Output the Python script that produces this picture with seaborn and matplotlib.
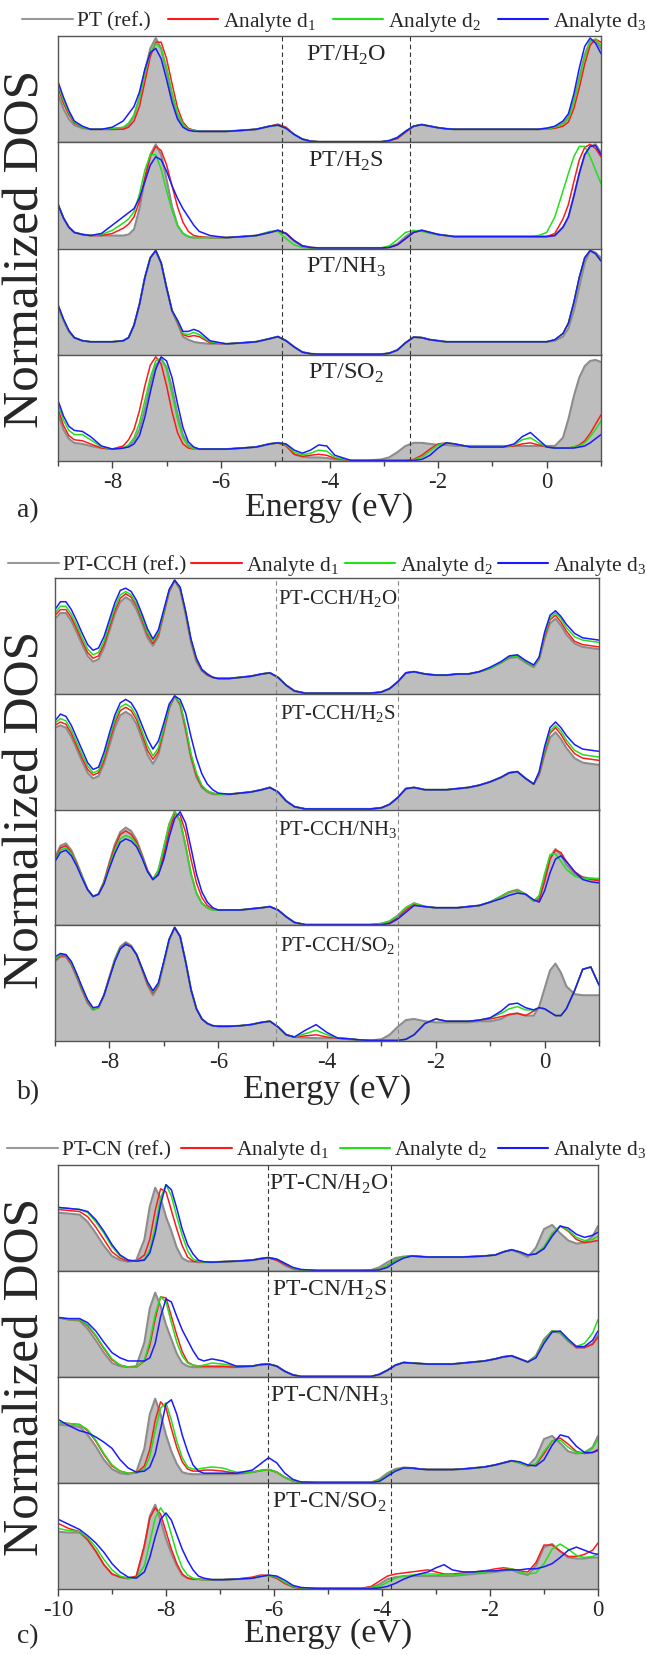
import numpy as np
import matplotlib
matplotlib.use('Agg')
import matplotlib.pyplot as plt
from matplotlib.lines import Line2D
from matplotlib.ticker import MultipleLocator
import seaborn as sns

# energy sampling points (eV), denser where the DOS changes quickly
energy_a = [-9.0, -8.9, -8.8, -8.7, -8.55, -8.4, -8.2, -8.0,
            -7.8, -7.7, -7.6, -7.5, -7.4, -7.3, -7.2, -7.1, -7.0, -6.9, -6.8, -6.7, -6.6, -6.5, -6.4,
            -6.2, -5.9, -5.6, -5.35,
            -5.1, -4.95, -4.8, -4.65, -4.5, -4.35, -4.2, -4.05, -3.9,
            -3.6, -3.3, -3.05,
            -2.9, -2.75, -2.6, -2.45, -2.3, -2.15, -2.0, -1.85, -1.7,
            -1.4, -1.1, -0.8, -0.6, -0.45, -0.3, -0.15,
            0.0, 0.15, 0.3, 0.4, 0.5, 0.6, 0.7, 0.8, 0.9, 1.0]
energy_b = [-9.0, -8.9, -8.8, -8.7, -8.6, -8.5, -8.4, -8.3, -8.2, -8.1,
            -8.0, -7.9, -7.8, -7.7, -7.6, -7.5, -7.4, -7.3, -7.2, -7.1,
            -7.0, -6.9, -6.8, -6.7, -6.6, -6.5, -6.4, -6.3, -6.2, -6.1, -6.0,
            -5.8, -5.6, -5.4, -5.2, -5.05, -4.9, -4.75, -4.6,
            -4.4, -4.2, -4.0, -3.8, -3.6, -3.4, -3.2, -3.0,
            -2.85, -2.7, -2.55, -2.4,
            -2.2, -2.0, -1.8, -1.6, -1.4, -1.2, -1.0, -0.8,
            -0.65, -0.5, -0.35, -0.2, -0.1, 0.0, 0.1, 0.2, 0.3, 0.4,
            0.55, 0.7, 0.85, 1.0]
energy_c = [-10.0, -9.8, -9.6, -9.45, -9.3, -9.15, -9.0, -8.85, -8.7, -8.55,
            -8.4, -8.3, -8.2, -8.1, -8.0, -7.9, -7.8, -7.7, -7.6, -7.5, -7.4, -7.3,
            -7.15, -6.95, -6.7,
            -6.4, -6.25, -6.1, -5.95, -5.8, -5.65, -5.5,
            -5.2, -4.8, -4.4, -4.2,
            -4.05, -3.9, -3.75, -3.6, -3.45, -3.3, -3.15,
            -3.0, -2.85, -2.7, -2.5, -2.3, -2.1, -1.9,
            -1.75, -1.6, -1.45, -1.3, -1.15, -1.0, -0.85, -0.7, -0.55, -0.4, -0.25, -0.1, 0.0]

# ---------------- panel a: PT ----------------
a_h2o_ref = [.46, .32, .22, .16, .13, .12, .12, .12,
             .125, .16, .25, .43, .68, .90, 1.0, .90, .68, .43, .25, .16, .12, .11, .10,
             .10, .10, .11, .12,
             .15, .16, .13, .07, .025, .005, 0, 0, 0,
             0, 0, 0,
             .01, .04, .10, .15, .165, .15, .135, .125, .12,
             .12, .12, .12, .12, .12, .12, .12,
             .13, .14, .18, .24, .40, .62, .84, .97, .98, .90]
a_h2o_d1 = [.52, .37, .26, .18, .14, .12, .12, .12,
            .12, .14, .20, .34, .58, .82, .96, .96, .80, .56, .33, .19, .13, .11, .10,
            .10, .10, .11, .12,
            .15, .17, .14, .07, .025, .005, 0, 0, 0,
            0, 0, 0,
            .01, .03, .09, .15, .165, .15, .135, .125, .12,
            .12, .12, .12, .12, .12, .12, .12,
            .12, .13, .15, .19, .32, .52, .75, .93, .99, .96]
a_h2o_d2 = [.55, .40, .28, .19, .14, .12, .12, .13,
            .14, .18, .26, .42, .66, .86, .95, .90, .72, .48, .28, .17, .12, .11, .10,
            .10, .10, .11, .12,
            .15, .16, .13, .07, .025, .005, 0, 0, 0,
            0, 0, 0,
            .01, .04, .10, .15, .165, .15, .135, .125, .12,
            .12, .12, .12, .12, .12, .12, .12,
            .12, .14, .17, .22, .38, .60, .82, .97, .99, .93]
a_h2o_d3 = [.58, .43, .30, .20, .15, .12, .12, .14,
            .20, .27, .34, .48, .70, .86, .90, .80, .60, .38, .22, .14, .11, .10, .10,
            .10, .10, .11, .12,
            .15, .16, .13, .07, .025, .005, 0, 0, 0,
            0, 0, 0,
            .01, .04, .10, .15, .165, .15, .135, .125, .12,
            .12, .12, .12, .12, .12, .12, .12,
            .13, .15, .20, .27, .46, .71, .92, 1.0, .95, .85]

a_h2s_ref = [.42, .29, .20, .15, .13, .12, .12, .12,
             .12, .13, .18, .38, .66, .90, 1.0, .90, .66, .40, .22, .14, .11, .10, .10,
             .10, .10, .11, .12,
             .15, .17, .14, .07, .02, .005, 0, 0, 0,
             0, 0, 0,
             .01, .04, .11, .16, .17, .15, .13, .12, .11,
             .11, .11, .11, .11, .11, .11, .11,
             .11, .12, .20, .30, .50, .72, .90, .98, 1.0, .92]
a_h2s_d1 = [.42, .29, .20, .15, .13, .12, .12, .14,
            .19, .23, .30, .45, .68, .88, .98, .94, .80, .60, .40, .25, .16, .12, .11,
            .10, .10, .11, .12,
            .15, .17, .14, .07, .02, .005, 0, 0, 0,
            0, 0, 0,
            .005, .03, .09, .15, .17, .15, .13, .12, .11,
            .11, .11, .11, .11, .11, .11, .11,
            .11, .14, .28, .42, .64, .85, .97, 1.0, .96, .88]
a_h2s_d2 = [.42, .29, .20, .15, .13, .12, .13, .17,
            .24, .28, .35, .52, .75, .90, .90, .76, .55, .36, .22, .14, .11, .10, .10,
            .10, .10, .11, .12,
            .16, .16, .09, .03, .005, 0, 0, 0, 0,
            0, 0, 0,
            .02, .08, .15, .17, .16, .14, .13, .12, .11,
            .11, .11, .11, .11, .11, .11, .12,
            .15, .30, .55, .72, .88, .98, .98, .88, .75, .62]
a_h2s_d3 = [.42, .29, .20, .15, .13, .12, .14, .22,
            .30, .34, .38, .48, .64, .80, .88, .85, .74, .60, .48, .38, .30, .22, .16,
            .12, .10, .11, .12,
            .15, .17, .14, .07, .02, .005, 0, 0, 0,
            0, 0, 0,
            .005, .03, .09, .15, .17, .15, .13, .12, .11,
            .11, .11, .11, .11, .11, .11, .11,
            .11, .12, .20, .30, .50, .72, .90, .98, .99, .90]

a_nh3_ref = [.46, .33, .22, .16, .13, .12, .12, .12,
             .13, .16, .28, .48, .74, .93, 1.0, .88, .64, .42, .30, .17, .14, .12, .11,
             .10, .10, .11, .12,
             .15, .17, .13, .07, .02, .005, 0, 0, 0,
             0, 0, 0,
             .01, .04, .11, .165, .16, .14, .13, .12, .12,
             .12, .12, .12, .12, .12, .12, .12,
             .12, .13, .17, .25, .42, .65, .88, 1.0, .98, .93]
a_nh3_d1 = [.47, .33, .22, .16, .13, .12, .12, .12,
            .13, .16, .28, .48, .74, .93, 1.0, .88, .64, .42, .31, .19, .17, .18, .17,
            .11, .10, .11, .12,
            .15, .17, .13, .07, .02, .005, 0, 0, 0,
            0, 0, 0,
            .01, .04, .11, .165, .16, .14, .13, .12, .12,
            .12, .12, .12, .12, .12, .12, .12,
            .12, .14, .20, .30, .50, .74, .93, 1.0, .97, .90]
a_nh3_d2 = [.47, .33, .22, .16, .13, .12, .12, .12,
            .13, .16, .28, .48, .74, .93, 1.0, .88, .64, .42, .32, .20, .19, .21, .19,
            .12, .10, .11, .12,
            .15, .17, .13, .07, .02, .005, 0, 0, 0,
            0, 0, 0,
            .01, .04, .11, .165, .16, .14, .13, .12, .12,
            .12, .12, .12, .12, .12, .12, .12,
            .12, .14, .20, .30, .50, .74, .93, 1.0, .97, .90]
a_nh3_d3 = [.48, .34, .23, .16, .13, .12, .12, .12,
            .13, .16, .28, .48, .74, .93, 1.0, .88, .64, .42, .33, .22, .22, .24, .22,
            .13, .10, .11, .12,
            .15, .17, .13, .07, .02, .005, 0, 0, 0,
            0, 0, 0,
            .01, .04, .11, .165, .16, .14, .13, .12, .12,
            .12, .12, .12, .12, .12, .12, .12,
            .12, .14, .20, .30, .50, .74, .93, 1.0, .97, .90]

a_so2_ref = [.45, .30, .21, .17, .16, .14, .12, .11,
             .12, .14, .19, .30, .50, .74, .92, .98, .90, .70, .45, .25, .15, .12, .11,
             .11, .11, .12, .13,
             .16, .17, .15, .06, .035, .03, .03, .025, .01,
             0, 0, .01,
             .03, .08, .14, .17, .17, .16, .15, .15, .14,
             .14, .14, .14, .14, .14, .14, .14,
             .14, .14, .22, .40, .62, .80, .91, .96, .97, .95]
a_so2_d1 = [.50, .34, .24, .20, .19, .16, .12, .11,
            .14, .20, .30, .48, .72, .92, 1.0, .93, .72, .47, .27, .16, .12, .11, .11,
            .11, .11, .12, .13,
            .16, .17, .14, .06, .04, .05, .06, .05, .02,
            0, 0, 0,
            0, 0, 0, .01, .05, .11, .16, .17, .16,
            .13, .13, .13, .14, .16, .17, .15,
            .13, .12, .12, .12, .13, .15, .19, .26, .35, .44]
a_so2_d2 = [.55, .39, .29, .25, .25, .20, .13, .11,
            .12, .15, .22, .36, .58, .80, .96, .99, .88, .64, .40, .22, .14, .11, .11,
            .11, .11, .12, .13,
            .16, .17, .15, .08, .055, .07, .10, .09, .03,
            0, 0, 0,
            0, 0, 0, .005, .03, .09, .15, .17, .16,
            .13, .13, .13, .15, .20, .22, .17,
            .13, .12, .12, .12, .13, .14, .17, .23, .30, .38]
a_so2_d3 = [.58, .43, .33, .29, .28, .23, .14, .11,
            .12, .13, .16, .24, .42, .66, .88, 1.0, .96, .80, .55, .32, .18, .13, .11,
            .11, .11, .12, .13,
            .16, .17, .16, .10, .07, .10, .15, .14, .05,
            0, 0, 0,
            0, 0, 0, 0, .01, .05, .12, .17, .16,
            .13, .13, .13, .16, .23, .27, .20,
            .13, .12, .12, .12, .12, .13, .14, .17, .21, .25]

# ---------------- panel b: PT-CCH ----------------
b_h2o_ref = [.66, .71, .71, .64, .54, .43, .33, .28, .30, .40,
             .55, .70, .81, .85, .82, .74, .62, .49, .42, .50,
             .70, .90, 1.0, .92, .70, .45, .28, .20, .16, .14, .13,
             .13, .14, .15, .17, .18, .14, .07, .02,
             0, 0, 0, 0, 0, 0, 0, .01,
             .04, .10, .18, .19,
             .17, .16, .16, .17, .17, .19, .22, .27,
             .31, .32, .27, .23, .30, .48, .62, .66, .60, .52,
             .44, .41, .40, .39]
b_h2o_d1 = [.69, .74, .74, .67, .57, .46, .36, .31, .33, .43,
            .58, .73, .84, .88, .85, .77, .65, .52, .44, .52,
            .71, .90, 1.0, .92, .71, .46, .29, .20, .16, .14, .13,
            .13, .14, .15, .17, .18, .14, .07, .02,
            0, 0, 0, 0, 0, 0, 0, .01,
            .04, .10, .18, .19,
            .17, .16, .16, .17, .17, .19, .22, .27,
            .32, .33, .28, .24, .31, .50, .65, .69, .63, .55,
            .46, .43, .42, .41]
b_h2o_d2 = [.71, .77, .77, .70, .60, .49, .39, .34, .36, .46,
            .61, .76, .87, .90, .87, .79, .67, .54, .46, .54,
            .72, .91, 1.0, .93, .72, .47, .30, .21, .17, .14, .13,
            .13, .14, .15, .17, .18, .14, .07, .02,
            0, 0, 0, 0, 0, 0, 0, .01,
            .04, .10, .18, .19,
            .17, .16, .16, .17, .17, .19, .22, .27,
            .32, .33, .28, .24, .31, .52, .67, .71, .66, .58,
            .50, .47, .46, .45]
b_h2o_d3 = [.74, .81, .81, .74, .64, .53, .43, .38, .40, .50,
            .65, .80, .91, .93, .90, .82, .70, .57, .48, .56,
            .74, .92, 1.0, .94, .73, .48, .31, .21, .17, .14, .13,
            .13, .14, .15, .17, .18, .14, .07, .02,
            0, 0, 0, 0, 0, 0, 0, .01,
            .04, .10, .18, .19,
            .17, .16, .16, .17, .17, .19, .23, .28,
            .33, .34, .29, .25, .32, .54, .69, .73, .68, .61,
            .53, .49, .48, .47]

b_h2s_ref = [.72, .74, .72, .64, .53, .42, .32, .27, .29, .40,
             .56, .72, .83, .86, .83, .75, .62, .48, .40, .48,
             .68, .89, 1.0, .92, .70, .45, .28, .19, .15, .13, .13,
             .13, .14, .15, .17, .19, .15, .07, .02,
             0, 0, 0, 0, 0, 0, 0, .01,
             .04, .10, .18, .19,
             .17, .17, .17, .18, .19, .21, .24, .28,
             .32, .33, .27, .22, .30, .48, .63, .68, .62, .54,
             .45, .41, .40, .39]
b_h2s_d1 = [.74, .77, .75, .67, .56, .45, .35, .30, .32, .43,
            .60, .76, .87, .90, .87, .79, .66, .52, .44, .51,
            .70, .90, 1.0, .93, .72, .47, .30, .20, .16, .14, .13,
            .13, .14, .15, .17, .19, .15, .07, .02,
            0, 0, 0, 0, 0, 0, 0, .01,
            .04, .10, .18, .19,
            .17, .17, .17, .18, .19, .21, .24, .28,
            .32, .33, .27, .22, .31, .50, .67, .72, .66, .58,
            .49, .45, .44, .43]
b_h2s_d2 = [.76, .80, .78, .70, .59, .48, .38, .32, .34, .46,
            .63, .79, .90, .93, .90, .82, .69, .56, .47, .54,
            .72, .91, 1.0, .94, .74, .49, .32, .21, .16, .14, .13,
            .13, .14, .15, .17, .19, .15, .07, .02,
            0, 0, 0, 0, 0, 0, 0, .01,
            .04, .10, .18, .19,
            .17, .17, .17, .18, .19, .21, .24, .28,
            .32, .33, .27, .22, .32, .52, .69, .74, .69, .61,
            .52, .48, .47, .46]
b_h2s_d3 = [.78, .84, .82, .74, .63, .52, .41, .35, .37, .50,
            .67, .83, .94, .97, .94, .86, .74, .62, .53, .60,
            .76, .93, 1.0, .97, .85, .64, .45, .31, .22, .17, .14,
            .13, .14, .15, .17, .19, .15, .07, .02,
            0, 0, 0, 0, 0, 0, 0, .01,
            .04, .10, .18, .19,
            .17, .17, .17, .18, .19, .21, .24, .28,
            .32, .33, .27, .22, .33, .55, .72, .77, .72, .65,
            .57, .53, .52, .51]

b_nh3_ref = [.59, .70, .72, .66, .55, .43, .31, .25, .27, .38,
             .55, .71, .82, .86, .83, .75, .62, .48, .40, .48,
             .68, .89, 1.0, .92, .70, .45, .28, .19, .15, .13, .13,
             .13, .13, .14, .15, .16, .13, .07, .02,
             0, 0, 0, 0, 0, 0, 0, .01,
             .03, .08, .15, .19,
             .16, .15, .15, .15, .16, .17, .20, .25,
             .29, .31, .27, .21, .24, .42, .60, .67, .62, .53,
             .45, .42, .41, .40]
b_nh3_d1 = [.58, .68, .70, .64, .54, .42, .31, .25, .27, .38,
            .54, .69, .80, .83, .80, .73, .61, .48, .40, .46,
            .62, .83, .98, .97, .82, .58, .37, .24, .17, .14, .13,
            .13, .13, .14, .15, .16, .13, .07, .02,
            0, 0, 0, 0, 0, 0, 0, .005,
            .02, .06, .13, .18,
            .16, .15, .15, .15, .16, .17, .20, .25,
            .29, .30, .27, .21, .22, .38, .58, .66, .64, .56,
            .47, .42, .40, .39]
b_nh3_d2 = [.57, .66, .68, .63, .53, .42, .31, .25, .27, .37,
            .52, .66, .76, .79, .77, .71, .60, .47, .40, .48,
            .68, .89, 1.0, .92, .70, .45, .28, .19, .15, .13, .13,
            .13, .13, .14, .15, .16, .13, .07, .02,
            0, 0, 0, 0, 0, 0, 0, .01,
            .03, .08, .15, .19,
            .16, .15, .15, .15, .16, .17, .20, .25,
            .29, .30, .27, .21, .26, .45, .62, .63, .56, .49,
            .43, .41, .41, .41]
b_nh3_d3 = [.56, .64, .66, .61, .52, .41, .31, .25, .27, .36,
            .50, .63, .73, .76, .74, .69, .59, .47, .40, .44,
            .58, .78, .94, 1.0, .90, .68, .45, .29, .20, .15, .13,
            .13, .13, .14, .15, .16, .13, .07, .02,
            0, 0, 0, 0, 0, 0, 0, 0,
            .01, .05, .11, .17,
            .16, .15, .15, .15, .16, .17, .20, .23,
            .26, .28, .27, .22, .20, .30, .46, .58, .61, .56,
            .47, .40, .38, .37]

b_so2_ref = [.70, .74, .74, .67, .56, .44, .33, .27, .29, .40,
             .56, .72, .83, .87, .84, .76, .63, .49, .40, .48,
             .68, .89, 1.0, .92, .70, .45, .28, .19, .15, .13, .125,
             .125, .13, .14, .16, .17, .12, .05, .03,
             .025, .02, .02, .02, .01, 0, 0, .01,
             .05, .12, .18, .19,
             .17, .16, .16, .16, .16, .17, .17, .19,
             .23, .24, .22, .22, .30, .46, .62, .68, .60, .48,
             .41, .40, .40, .40]
b_so2_d1 = [.71, .75, .75, .68, .57, .45, .34, .28, .29, .40,
            .56, .71, .82, .86, .83, .76, .63, .50, .42, .49,
            .69, .89, 1.0, .92, .70, .45, .28, .19, .15, .13, .125,
            .125, .13, .14, .16, .17, .12, .05, .03,
            .04, .05, .03, .02, .015, .005, 0, 0,
            0, 0, .01, .05,
            .15, .19, .17, .17, .17, .18, .19, .21,
            .23, .24, .22, .26, .29, .28, .25, .22, .22, .28,
            .44, .63, .65, .49]
b_so2_d2 = [.72, .76, .76, .69, .58, .46, .35, .28, .29, .40,
            .55, .71, .82, .85, .83, .76, .64, .51, .43, .50,
            .69, .89, 1.0, .92, .70, .45, .28, .19, .15, .13, .125,
            .125, .13, .14, .16, .17, .12, .05, .03,
            .06, .09, .05, .02, .015, .005, 0, 0,
            0, 0, .01, .05,
            .15, .19, .17, .17, .17, .18, .20, .24,
            .28, .30, .27, .27, .29, .28, .25, .22, .22, .28,
            .44, .63, .65, .49]
b_so2_d3 = [.74, .77, .76, .70, .59, .47, .36, .29, .30, .40,
            .55, .70, .81, .85, .83, .76, .64, .52, .44, .51,
            .70, .90, 1.0, .92, .70, .45, .28, .19, .15, .13, .125,
            .125, .13, .14, .16, .17, .12, .05, .03,
            .09, .14, .07, .02, .015, .005, 0, 0,
            0, 0, .01, .05,
            .15, .19, .17, .17, .17, .18, .20, .26,
            .32, .33, .29, .27, .29, .28, .25, .22, .22, .28,
            .44, .63, .65, .49]

# ---------------- panel c: PT-CN ----------------
c_h2o_ref = [.56, .55, .54, .47, .36, .24, .14, .10, .085, .10,
             .30, .62, .80, .70, .52, .38, .22, .12, .09, .085, .08, .08,
             .08, .085, .09,
             .10, .115, .125, .10, .05, .015, 0,
             0, 0, 0, .005,
             .03, .08, .12, .135, .14, .135, .13,
             .13, .13, .13, .13, .135, .14, .15,
             .18, .20, .17, .13, .22, .40, .44, .36, .29, .26, .27, .33, .43]
c_h2o_d1 = [.59, .58, .57, .52, .42, .30, .18, .12, .09, .09,
            .15, .30, .58, .79, .76, .58, .40, .24, .13, .09, .085, .08,
            .08, .085, .09,
            .10, .11, .12, .10, .06, .02, .005,
            0, 0, 0, 0,
            .01, .05, .10, .13, .14, .135, .13,
            .13, .13, .13, .13, .135, .14, .15,
            .18, .20, .18, .15, .16, .22, .35, .43, .38, .30, .27, .28, .29]
c_h2o_d2 = [.61, .60, .59, .56, .47, .36, .23, .14, .10, .09,
            .11, .20, .42, .70, .83, .72, .52, .34, .19, .11, .09, .08,
            .08, .085, .09,
            .10, .115, .125, .11, .07, .025, .005,
            0, 0, 0, 0,
            .01, .05, .10, .13, .14, .135, .13,
            .13, .13, .13, .13, .135, .14, .15,
            .18, .20, .18, .15, .16, .23, .36, .43, .39, .32, .29, .30, .33]
c_h2o_d3 = [.61, .60, .59, .57, .49, .38, .25, .15, .10, .09,
            .10, .17, .36, .64, .83, .78, .60, .40, .25, .16, .10, .085,
            .08, .085, .09,
            .10, .115, .125, .11, .07, .03, .01,
            0, 0, 0, 0,
            .005, .03, .08, .12, .14, .135, .13,
            .13, .13, .13, .13, .135, .14, .15,
            .18, .20, .18, .15, .16, .21, .33, .43, .41, .35, .32, .34, .37]

c_h2s_ref = [.57, .55, .54, .46, .35, .23, .13, .10, .09, .10,
             .33, .66, .81, .68, .50, .36, .22, .13, .10, .09, .09, .09,
             .09, .09, .09,
             .10, .115, .12, .10, .05, .015, 0,
             0, 0, 0, 0,
             .02, .06, .11, .135, .13, .125, .12,
             .12, .12, .12, .13, .14, .15, .17,
             .19, .20, .17, .14, .20, .36, .44, .42, .34, .28, .28, .32, .40]
c_h2s_d1 = [.57, .55, .55, .49, .39, .27, .16, .11, .09, .09,
            .15, .30, .56, .77, .76, .58, .40, .24, .14, .11, .10, .10,
            .10, .10, .09,
            .10, .115, .12, .10, .05, .015, 0,
            0, 0, 0, 0,
            .02, .06, .11, .135, .13, .125, .12,
            .12, .12, .12, .13, .14, .15, .17,
            .19, .20, .17, .14, .19, .34, .44, .43, .35, .28, .28, .31, .38]
c_h2s_d2 = [.57, .55, .55, .50, .40, .28, .17, .11, .09, .09,
            .16, .34, .60, .77, .72, .52, .33, .20, .13, .11, .10, .11,
            .13, .12, .10,
            .10, .115, .12, .10, .05, .015, 0,
            0, 0, 0, 0,
            .02, .06, .11, .135, .13, .125, .12,
            .12, .12, .12, .13, .14, .15, .17,
            .19, .20, .17, .14, .19, .34, .44, .43, .35, .29, .32, .42, .55]
c_h2s_d3 = [.57, .56, .56, .52, .44, .33, .23, .18, .15, .15,
            .15, .18, .32, .58, .75, .72, .58, .45, .35, .25, .17, .15,
            .17, .15, .10,
            .10, .115, .12, .10, .05, .015, 0,
            0, 0, 0, 0,
            .02, .06, .11, .135, .13, .125, .12,
            .12, .12, .12, .13, .14, .15, .17,
            .19, .20, .17, .14, .18, .32, .43, .44, .36, .29, .29, .35, .44]

c_nh3_ref = [.56, .55, .54, .46, .35, .22, .13, .09, .08, .10,
             .33, .66, .81, .66, .46, .30, .18, .10, .085, .08, .08, .08,
             .08, .08, .08,
             .10, .115, .125, .10, .05, .015, 0,
             0, 0, 0, 0,
             .03, .09, .13, .145, .14, .13, .125,
             .125, .125, .125, .13, .14, .15, .17,
             .19, .21, .19, .16, .24, .42, .45, .38, .30, .28, .29, .34, .45]
c_nh3_d1 = [.58, .57, .56, .50, .40, .27, .16, .11, .09, .09,
            .16, .32, .60, .78, .72, .52, .34, .20, .13, .11, .11, .12,
            .12, .11, .09,
            .10, .115, .125, .10, .05, .015, 0,
            0, 0, 0, 0,
            .02, .07, .12, .14, .14, .13, .125,
            .125, .125, .125, .13, .14, .15, .17,
            .19, .21, .19, .16, .17, .28, .40, .43, .37, .30, .28, .29, .32]
c_nh3_d2 = [.58, .57, .56, .51, .41, .28, .17, .11, .09, .09,
            .13, .25, .50, .72, .77, .60, .40, .24, .15, .13, .13, .14,
            .15, .14, .10,
            .10, .115, .125, .10, .05, .015, 0,
            0, 0, 0, 0,
            .02, .07, .12, .14, .14, .13, .125,
            .125, .125, .125, .13, .14, .15, .17,
            .19, .21, .19, .16, .18, .30, .40, .41, .34, .29, .29, .33, .42]
c_nh3_d3 = [.61, .55, .50, .48, .44, .39, .33, .22, .14, .10,
            .11, .15, .28, .52, .76, .80, .66, .46, .30, .17, .11, .09,
            .09, .09, .09,
            .12, .18, .24, .19, .09, .03, .005,
            0, 0, 0, 0,
            .01, .06, .11, .14, .14, .13, .125,
            .125, .125, .125, .13, .14, .15, .17,
            .19, .21, .20, .17, .16, .22, .36, .46, .44, .35, .29, .29, .31]

c_so2_ref = [.55, .54, .54, .47, .36, .23, .14, .11, .095, .11,
             .40, .70, .81, .66, .48, .34, .22, .13, .10, .09, .09, .085,
             .085, .085, .09,
             .10, .12, .125, .10, .05, .015, 0,
             0, 0, 0, .01,
             .04, .09, .11, .12, .12, .12, .12,
             .12, .12, .12, .13, .14, .15, .16,
             .17, .18, .15, .13, .22, .40, .43, .36, .30, .29, .29, .30, .30]
c_so2_d1 = [.63, .58, .55, .47, .36, .23, .14, .11, .10, .12,
            .42, .68, .78, .72, .55, .38, .24, .14, .10, .09, .09, .085,
            .085, .085, .09,
            .11, .13, .125, .10, .05, .015, 0,
            0, 0, 0, .02,
            .07, .12, .14, .15, .16, .17, .18,
            .16, .14, .14, .15, .16, .17, .19,
            .20, .19, .17, .16, .25, .42, .42, .36, .31, .31, .33, .37, .44]
c_so2_d2 = [.58, .56, .55, .49, .40, .28, .18, .12, .10, .10,
            .22, .45, .68, .78, .70, .52, .34, .20, .13, .10, .09, .085,
            .085, .085, .09,
            .10, .12, .125, .11, .06, .02, .005,
            0, 0, 0, .01,
            .02, .06, .10, .12, .13, .14, .14,
            .14, .13, .13, .14, .15, .16, .17,
            .18, .19, .16, .14, .15, .24, .38, .43, .38, .32, .30, .31, .33]
c_so2_d3 = [.67, .62, .57, .51, .44, .35, .24, .16, .11, .10,
            .16, .30, .50, .67, .73, .66, .52, .38, .27, .18, .12, .10,
            .085, .085, .09,
            .10, .115, .13, .12, .08, .03, .01,
            0, 0, 0, 0,
            .005, .02, .05, .09, .12, .14, .16,
            .20, .23, .18, .16, .16, .17, .17,
            .18, .18, .18, .19, .19, .21, .24, .30, .37, .40, .37, .34, .33]

subplot_titles_a = ['PT/H$_\\mathregular{2}$O', 'PT/H$_\\mathregular{2}$S',
                    'PT/NH$_\\mathregular{3}$', 'PT/SO$_\\mathregular{2}$']
subplot_titles_b = ['PT-CCH/H$_\\mathregular{2}$O', 'PT-CCH/H$_\\mathregular{2}$S',
                    'PT-CCH/NH$_\\mathregular{3}$', 'PT-CCH/SO$_\\mathregular{2}$']
subplot_titles_c = ['PT-CN/H$_\\mathregular{2}$O', 'PT-CN/H$_\\mathregular{2}$S',
                    'PT-CN/NH$_\\mathregular{3}$', 'PT-CN/SO$_\\mathregular{2}$']
legend_labels = ['Analyte d$_\\mathregular{1}$', 'Analyte d$_\\mathregular{2}$',
                 'Analyte d$_\\mathregular{3}$']
gap_a = [-4.87, -2.51]
gap_b = [-4.93, -2.69]
gap_c = [-6.12, -3.84]

# ---------------- drawing ----------------
W, H = 646, 1655
ref_fill = '#bdbdbd'
ref_line = '#8c8c8c'
analyte_colors = ['#ff1a1a', '#22e01a', '#1a1aff']
serif = ['Liberation Serif', 'DejaVu Serif']

sns.set_style('white')
plt.rcParams['font.family'] = serif
plt.rcParams['mathtext.fontset'] = 'custom'
plt.rcParams['mathtext.rm'] = 'Liberation Serif'
plt.rcParams['axes.unicode_minus'] = False

fig = plt.figure(figsize=(W / 100, H / 100), dpi=100)


def draw_panel(energy, curves, titles, ref_name, box, xlim, gap, dash_color,
               title_size, legend_y, legend_x0, letter, xlabel_y):
    left, right, top, bottom = box
    step = (bottom - top) / 4
    mid = (gap[0] + gap[1]) / 2
    for i, (ref, d1, d2, d3) in enumerate(curves):
        for d in (ref, d1, d2, d3):
            assert len(d) == len(energy), (titles[i], len(d), len(energy))
        t = top + i * step
        ax = fig.add_axes([left / W, 1 - (t + step) / H, (right - left) / W, step / H])
        ax.fill_between(energy, ref, 0, color=ref_fill, lw=0)
        sns.lineplot(x=energy, y=ref, ax=ax, color=ref_line, lw=1.5, sort=False)
        for d, c in zip([d1, d2, d3], analyte_colors):
            sns.lineplot(x=energy, y=d, ax=ax, color=c, lw=1.1, sort=False)
        for g in gap:
            ax.axvline(g, color=dash_color, ls=(0, (4, 3)), lw=0.8)
        ax.set_xlim(*xlim)
        ax.set_ylim(-0.005, 1.02)
        ax.set_yticks([])
        ax.set_xlabel('')
        ax.set_ylabel('')
        for s in ax.spines.values():
            s.set_color('#555555')
            s.set_linewidth(1.0)
        ax.text(mid, 0.82, titles[i], transform=ax.get_xaxis_transform(),
                ha='center', va='center', fontsize=title_size, family=serif)
        if i == 3:
            ax.xaxis.set_major_locator(MultipleLocator(2))
            ax.xaxis.set_minor_locator(MultipleLocator(1))
            ax.tick_params(axis='x', which='major', direction='out', length=5,
                           width=1, color='#444444', labelsize=16.5, pad=3, bottom=True)
            ax.tick_params(axis='x', which='minor', direction='out', length=3.5,
                           width=1, color='#444444', bottom=True)
            for lab in ax.get_xticklabels():
                lab.set_family(serif)
        else:
            ax.set_xticks([])

    handles = [Line2D([], [], color='#999999', lw=1.5)]
    handles += [Line2D([], [], color=c, lw=1.5) for c in analyte_colors]
    fig.legend(handles, [ref_name] + legend_labels, loc='center', ncol=4,
               bbox_to_anchor=(legend_x0 / W, 1 - legend_y / H, (W - legend_x0) / W, 0),
               mode='expand', frameon=False, fontsize=15.5, handlelength=2.35,
               handletextpad=0.2, borderaxespad=0, borderpad=0)
    cx = (left + right) / 2
    fig.text(cx / W, 1 - xlabel_y / H, 'Energy (eV)', ha='center', va='center',
             fontsize=24.5, family=serif)
    fig.text(17 / W, 1 - (xlabel_y + 3) / H, letter, ha='left', va='center',
             fontsize=20, family=serif)
    fig.text(26 / W, 1 - (top + bottom) / 2 / H, 'Normalized DOS', rotation=90,
             ha='center', va='center', fontsize=37, family=serif)


panel_a = [(a_h2o_ref, a_h2o_d1, a_h2o_d2, a_h2o_d3),
           (a_h2s_ref, a_h2s_d1, a_h2s_d2, a_h2s_d3),
           (a_nh3_ref, a_nh3_d1, a_nh3_d2, a_nh3_d3),
           (a_so2_ref, a_so2_d1, a_so2_d2, a_so2_d3)]
panel_b = [(b_h2o_ref, b_h2o_d1, b_h2o_d2, b_h2o_d3),
           (b_h2s_ref, b_h2s_d1, b_h2s_d2, b_h2s_d3),
           (b_nh3_ref, b_nh3_d1, b_nh3_d2, b_nh3_d3),
           (b_so2_ref, b_so2_d1, b_so2_d2, b_so2_d3)]
panel_c = [(c_h2o_ref, c_h2o_d1, c_h2o_d2, c_h2o_d3),
           (c_h2s_ref, c_h2s_d1, c_h2s_d2, c_h2s_d3),
           (c_nh3_ref, c_nh3_d1, c_nh3_d2, c_nh3_d3),
           (c_so2_ref, c_so2_d1, c_so2_d2, c_so2_d3)]

draw_panel(energy_a, panel_a, subplot_titles_a, 'PT (ref.)', (58, 601, 36, 461),
           (-9, 1), gap_a, '#333333', 17.5, 22, 22, 'a)', 508)
draw_panel(energy_b, panel_b, subplot_titles_b, 'PT-CCH (ref.)', (55, 599, 578, 1041),
           (-9, 1), gap_b, '#888888', 15, 566, 8, 'b)', 1090)
draw_panel(energy_c, panel_c, subplot_titles_c, 'PT-CN (ref.)', (58, 598, 1165, 1589),
           (-10, 0), gap_c, '#333333', 17, 1151, 7, 'c)', 1634)

fig.savefig('out.png', dpi=100)
